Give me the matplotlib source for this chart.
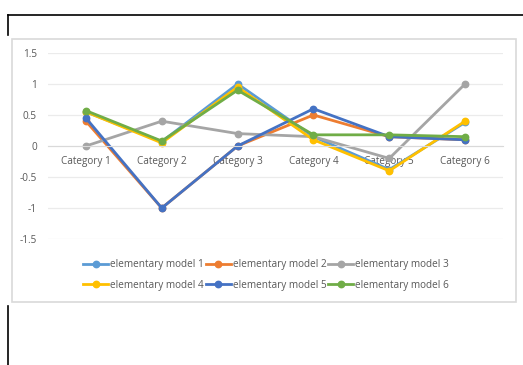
import matplotlib.pyplot as plt
from matplotlib.patches import Rectangle
from matplotlib.lines import Line2D

# -----------------------------
# Data
# -----------------------------
categories = ["Category 1", "Category 2", "Category 3", "Category 4", "Category 5", "Category 6"]
series_names = [
    "elementary model 1",
    "elementary model 2",
    "elementary model 3",
    "elementary model 4",
    "elementary model 5",
    "elementary model 6",
]
model_1 = [0.55, 0.07, 1.0, 0.15, -0.38, 0.38]
model_2 = [0.40, -1.0, 0.0, 0.50, 0.15, 0.10]
model_3 = [0.0, 0.40, 0.20, 0.15, -0.20, 1.0]
model_4 = [0.55, 0.05, 0.95, 0.10, -0.40, 0.40]
model_5 = [0.45, -1.0, 0.0, 0.60, 0.15, 0.10]
model_6 = [0.57, 0.08, 0.90, 0.18, 0.18, 0.15]
y_ticks = [-1.5, -1, -0.5, 0, 0.5, 1, 1.5]
y_tick_labels = ["-1.5", "-1", "-0.5", "0", "0.5", "1", "1.5"]

colors = ["#5B9BD5", "#ED7D31", "#A5A5A5", "#FFC000", "#4472C4", "#70AD47"]
all_series = [model_1, model_2, model_3, model_4, model_5, model_6]

plt.rcParams["font.family"] = ["Open Sans", "DejaVu Sans"]
text_color = "#595959"

fig = plt.figure(figsize=(5.23, 3.65), dpi=100)

# chart frame (light gray) and the black page lines around it
fig.patches.append(Rectangle((0.023, 0.173), 0.964, 0.719, transform=fig.transFigure,
                             facecolor="white", edgecolor="#D9D9D9", linewidth=1.2, zorder=-1))
fig.add_artist(Line2D([0.015, 1.0], [0.959, 0.959], color="black", linewidth=1.2))
fig.add_artist(Line2D([0.015, 0.015], [0.959, 0.904], color="black", linewidth=1.2))
fig.add_artist(Line2D([0.015, 0.015], [0.162, 0.0], color="black", linewidth=1.2))

ax = fig.add_axes([0.0918, 0.345, 0.870, 0.510])
ax.set_zorder(1)
ax.set_facecolor("none")

x = list(range(len(categories)))
handles = []
for name, vals, col in zip(series_names, all_series, colors):
    h, = ax.plot(x, vals, color=col, linewidth=2.0, marker="o", markersize=4.6, label=name)
    handles.append(h)

ax.set_xlim(-0.5, len(categories) - 0.5)
ax.set_ylim(-1.5, 1.5)
ax.set_yticks(y_ticks)
ax.set_yticklabels(y_tick_labels)
ax.set_xticks(x)
ax.set_xticklabels(categories)
ax.grid(axis="y", color="#EBEBEB", linewidth=0.9)
ax.set_axisbelow(True)

for side in ["top", "right", "left"]:
    ax.spines[side].set_visible(False)
ax.spines["bottom"].set_position(("data", 0))
ax.spines["bottom"].set_color("#D9D9D9")
ax.tick_params(axis="both", length=0, labelsize=7.2, colors=text_color)
ax.tick_params(axis="x", pad=7)
ax.tick_params(axis="y", pad=8)

# Excel fills legend rows first; matplotlib fills columns, so reorder
order = [0, 3, 1, 4, 2, 5]
fig.legend([handles[i] for i in order], [series_names[i] for i in order],
           loc="center", bbox_to_anchor=(0.509, 0.247), ncol=3, frameon=False,
           fontsize=7.2, handlelength=2.5, handletextpad=0.2, columnspacing=0.2,
           labelspacing=0.95, labelcolor=text_color)

fig.savefig("out.png", dpi=100)
